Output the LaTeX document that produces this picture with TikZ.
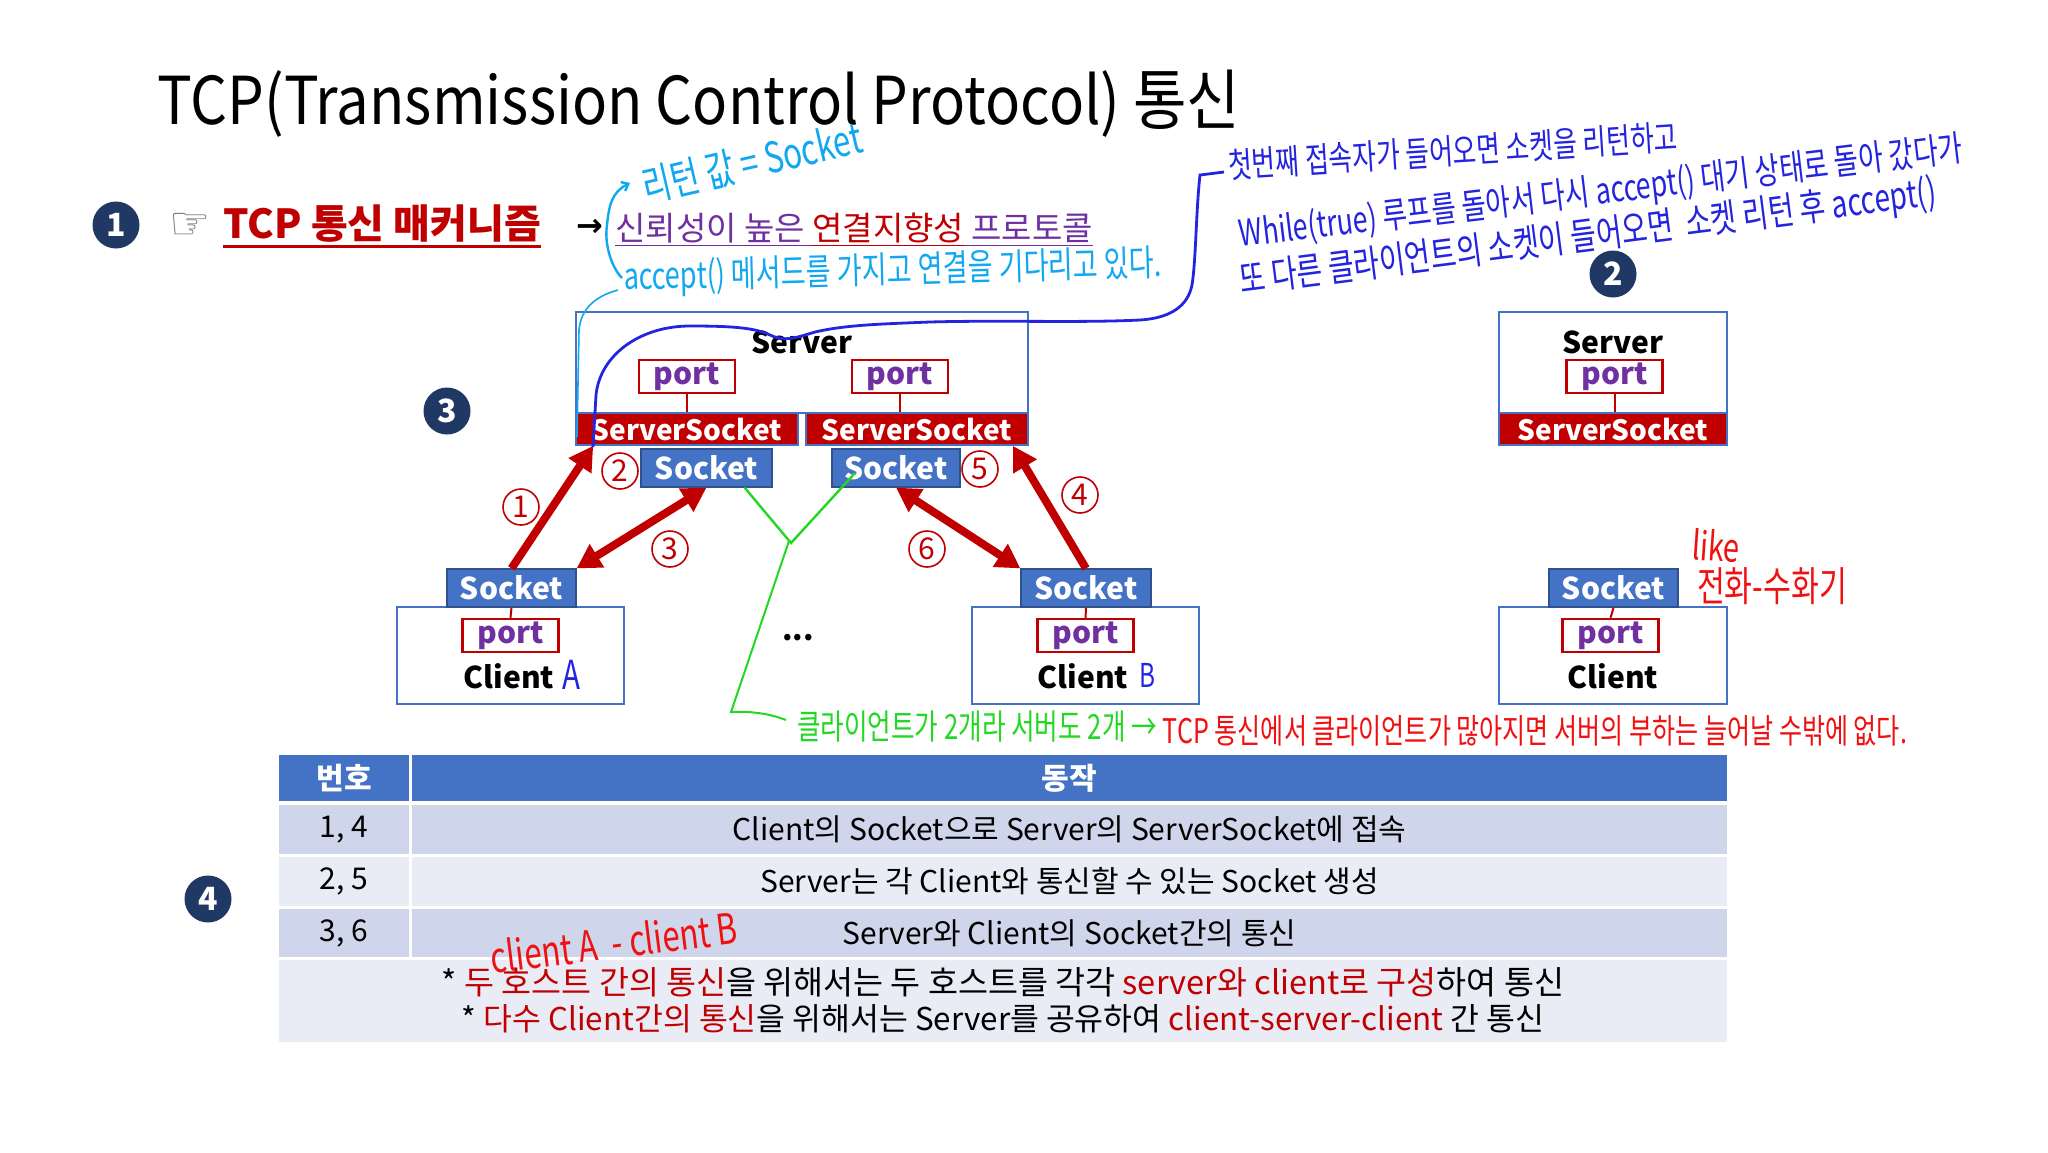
\documentclass[tikz,border=0pt]{standalone}
\usepackage{fontspec}
\usepackage{graphicx}
\setmainfont{Noto Sans CJK KR}
\newfontfamily\handfont{Noto Sans CJK KR}[FakeStretch=0.74]
\newfontfamily\titlefont{Noto Sans CJK KR}[FakeStretch=0.88]
\newfontfamily\dejavu{DejaVu Sans}
\usetikzlibrary{arrows.meta}
\definecolor{navy}{HTML}{203864}
\definecolor{dred}{HTML}{C00000}
\definecolor{purp}{HTML}{7030A0}
\definecolor{sblue}{HTML}{4472C4}
\definecolor{bborder}{HTML}{2F528F}
\definecolor{rowa}{HTML}{CFD5EA}
\definecolor{rowb}{HTML}{E9EBF5}
\definecolor{cyanhand}{HTML}{10A8F0}
\definecolor{bluehand}{HTML}{2424E0}
\definecolor{greenhand}{HTML}{22D822}
\definecolor{redhand}{HTML}{F01010}
\newcommand{\fsz}[1]{\fontsize{#1}{#1}\selectfont}
\newcommand{\fitw}[2]{\resizebox{#1}{!}{#2}}
\tikzset{
  srvbox/.style={draw=sblue, line width=1pt, fill=white, inner sep=0},
  ssbar/.style={fill=dred, draw=sblue, line width=0.8pt, text=white, font=\bfseries\fsz{14}, inner sep=0, minimum height=16pt},
  sockbox/.style={fill=sblue, draw=bborder, line width=0.6pt, text=white, font=\bfseries\fsz{15}, inner sep=0, minimum height=19pt},
  portbox/.style={draw=dred, line width=1.2pt, fill=white, text=purp, font=\bfseries\fsz{15}, inner sep=0, minimum width=48pt, minimum height=16.5pt, text height=9pt, text depth=1pt},
  numc/.style={circle, fill=navy, text=white, font=\bfseries\fsz{16}, minimum size=23.5pt, inner sep=0},
  stepc/.style={circle, draw=dred, line width=0.8pt, text=dred, font=\fsz{15}, minimum size=18pt, inner sep=0},
  redarrow/.style={draw=dred, line width=4pt, -{Triangle[length=12pt,width=13pt]}},
  redbiarrow/.style={draw=dred, line width=4pt, {Triangle[length=12pt,width=13pt]}-{Triangle[length=12pt,width=13pt]}},
  tlink/.style={draw=dred, line width=1pt},
  hd/.style={fill=sblue, text=white, font=\bfseries\fsz{15}, inner sep=0},
  cella/.style={fill=rowa, font=\fsz{15}, inner sep=0},
  cellb/.style={fill=rowb, font=\fsz{15}, inner sep=0},
  lbl/.style={font=\bfseries\fsz{15}, inner sep=0},
  hw/.style={inner sep=0},
}
\begin{document}
\begin{tikzpicture}[x=0.5pt,y=-0.5pt]
\useasboundingbox (0,0) rectangle (2048,1152);
\fill[white] (0,0) rectangle (2048,1152);

% title
\node[anchor=base west, font=\titlefont\fsz{33}, inner sep=0] (title) at (157,124) {TCP(Transmission Control Protocol) 통신};

% line 1
\node[numc] (n1) at (116,225) {1};
\node[font=\dejavu\fsz{23}, text=black!55, inner sep=0] (hand) at (190,226) {☞};
\node[anchor=base west, text=dred, font=\bfseries\fsz{20}, inner sep=0] (mech) at (223,238) {TCP 통신 매커니즘};
\draw[dred, line width=1.5pt] ([yshift=-4pt]mech.base west) -- ([yshift=-4pt]mech.base east);
\node[font=\dejavu\bfseries\fsz{16}, inner sep=0] (arr0) at (590,228) {→};
\node[anchor=base west, text=purp, font=\fsz{16.5}, inner sep=0] (prot) at (615,240) {\underline{신뢰성이 높은 }\textcolor{dred}{\underline{연결지향성}}\underline{ 프로토콜}};

% number circles
\node[numc] (n2) at (1613,274) {2};
\node[numc] (n3) at (447,411) {3};
\node[numc] (n4) at (208,899) {4};

% ===== left server =====
\node[srvbox, minimum width=226pt, minimum height=50.5pt] (srv) at (802,362.5) {};
\node[lbl] (srvt) at (802,342) {Server};
\node[portbox] (p1) at (687,376.5) {port};
\node[portbox] (p2) at (900,376.5) {port};
\node[ssbar, minimum width=111pt] (ss1) at (687,429) {ServerSocket};
\node[ssbar, minimum width=111pt] (ss2) at (917,429) {ServerSocket};
\draw[tlink] (p1.south) -- (p1.south |- ss1.north);
\draw[tlink] (p2.south) -- (p2.south |- ss2.north);
\node[sockbox, minimum width=65.5pt] (s1) at (706.5,468) {Socket};
\node[sockbox, minimum width=64pt] (s2) at (896,468) {Socket};

% ===== client A =====
\node[srvbox, minimum width=113.5pt, minimum height=48.5pt] (cA) at (510.5,655.5) {};
\node[sockbox, minimum width=64.5pt] (csA) at (511.5,588) {Socket};
\node[portbox] (pA) at (510.5,635.5) {port};
\draw[tlink] (csA.south) -- (pA.north);
\node[lbl] (cAt) at (509,676) {Client};
\node[hw, text=bluehand] (cAh) at (571,675) {\fitw{9pt}{\handfont A}};

% ===== client B =====
\node[srvbox, minimum width=113.5pt, minimum height=48.5pt] (cB) at (1085.5,655.5) {};
\node[sockbox, minimum width=65pt] (csB) at (1086,588) {Socket};
\node[portbox] (pB) at (1085.5,635.5) {port};
\draw[tlink] (csB.south) -- (pB.north);
\node[lbl] (cBt) at (1083,676) {Client};
\node[hw, text=bluehand] (cBh) at (1147,675) {\fitw{8pt}{\handfont B}};

\node[lbl] (dots) at (798,638) {...};

% ===== right server / client =====
\node[srvbox, minimum width=114pt, minimum height=50.5pt] (srvR) at (1613,362.5) {};
\node[lbl] (srvRt) at (1613,342) {Server};
\node[portbox] (pR) at (1614.5,376.5) {port};
\node[ssbar, minimum width=114pt] (ssR) at (1613,429) {ServerSocket};
\draw[tlink] (pR.south) -- (pR.south |- ssR.north);

\node[srvbox, minimum width=114pt, minimum height=48.5pt] (cR) at (1613,655.5) {};
\node[sockbox, minimum width=64.5pt] (csR) at (1613.5,588) {Socket};
\node[portbox] (pRc) at (1610.5,635.5) {port};
\draw[tlink] (csR.south) -- (pRc.north);
\node[lbl] (cRt) at (1613,676) {Client};

% ===== arrows =====
\draw[redarrow] (csA.north) -- ([xshift=9pt]ss1.south west);
\draw[redbiarrow] (csA.north east) -- (s1.south);
\draw[redarrow] (csB.north) -- ([xshift=-8pt]ss2.south east);
\draw[redbiarrow] (csB.north west) -- (s2.south);

\node[stepc] (st1) at (521,507) {1};
\node[stepc] (st2) at (620,471) {2};
\node[stepc] (st3) at (670,549) {3};
\node[stepc] (st4) at (1080,495) {4};
\node[stepc] (st5) at (980,469) {5};
\node[stepc] (st6) at (927,549) {6};

% ===== table =====
\node[hd, minimum width=65pt, minimum height=23pt] (h1) at (344,778) {번호};
\node[hd, minimum width=657.5pt, minimum height=23pt] (h2) at (1069.5,778) {동작};
\node[cella, minimum width=65pt, minimum height=24.5pt] (r1a) at (344,829.5) {1, 4};
\node[cella, minimum width=657.5pt, minimum height=24.5pt] (r1b) at (1069.5,829.5) {Client의 Socket으로 Server의 ServerSocket에 접속};
\node[cellb, minimum width=65pt, minimum height=24.5pt] (r2a) at (344,881.5) {2, 5};
\node[cellb, minimum width=657.5pt, minimum height=24.5pt] (r2b) at (1069.5,881.5) {Server는 각 Client와 통신할 수 있는 Socket 생성};
\node[cella, minimum width=65pt, minimum height=24pt] (r3a) at (344,933) {3, 6};
\node[cella, minimum width=657.5pt, minimum height=24pt] (r3b) at (1069.5,933) {Server와 Client의 Socket간의 통신};
\node[cellb, minimum width=724pt, minimum height=41pt] (r4) at (1003,1001) {};
\node[inner sep=0] (r4l1) at (1003,982) {\fitw{561pt}{\fsz{15}* \textcolor{dred}{두 호스트 간의 통신}을 위해서는 두 호스트를 각각 \textcolor{dred}{server와 client로 구성}하여 통신}};
\node[inner sep=0] (r4l2) at (1003,1019) {\fitw{541pt}{\fsz{15}* \textcolor{dred}{다수 Client간의 통신}을 위해서는 Server를 공유하여 \textcolor{dred}{client-server-client} 간 통신}};

% ===== hand annotations =====
% cyan
\node[hw, text=cyanhand, rotate=13] (ret) at (752,162) {\fitw{112pt}{\handfont 리턴 값 = Socket}};
\node[hw, text=cyanhand, rotate=1.5] (acc) at (893,272) {\fitw{269pt}{\handfont accept() 메서드를 가지고 연결을 기다리고 있다.}};
\draw[cyanhand, line width=1.2pt, -{Straight Barb[length=3pt,width=5pt]}] (622,278) .. controls (612,268) and (604,245) .. (607,225) .. controls (609,205) and (612,192) .. (630,183);
\draw[cyanhand, line width=0.8pt] (618,290) .. controls (596,296) and (581,308) .. (579,330) -- (577,437);

% blue
\node[hw, text=bluehand, rotate=3.6] (bl1) at (1453,151) {\fitw{225pt}{\handfont 첫번째 접속자가 들어오면 소켓을 리턴하고}};
\node[hw, text=bluehand, rotate=6.8] (bl2) at (1601,193) {\fitw{364pt}{\handfont While(true) 루프를 돌아서 다시 accept() 대기 상태로 돌아 갔다가}};
\node[hw, text=bluehand, rotate=7.3] (bl3) at (1588,238) {\fitw{351pt}{\handfont 또 다른 클라이언트의 소켓이 들어오면 \ 소켓 리턴 후 accept()}};
\draw[bluehand, line width=1.4pt] (1224,172) -- (1200,175) .. controls (1196,210) and (1196,260) .. (1192,285) .. controls (1188,305) and (1172,318) .. (1140,320) .. controls (1080,323) and (1000,320) .. (930,322) .. controls (880,324) and (845,325) .. (815,332) .. controls (795,338) and (785,342) .. (770,335) .. controls (755,328) and (735,326) .. (690,326) .. controls (640,326) and (600,355) .. (596,395) -- (593,447);

% green / red bottom
\draw[greenhand, line width=1.2pt] ([xshift=-14pt]s1.south east) -- (791,543) -- (855,473);
\draw[greenhand, line width=1pt] (789,541) -- (731,712) .. controls (748,711) and (768,713) .. (786,720);
\node[hw, text=greenhand] (grn) at (977,727) {\fitw{180pt}{\handfont 클라이언트가 2개라 서버도 2개 →}};
\node[hw, text=redhand] (rdn) at (1535,731) {\fitw{372pt}{\handfont TCP 통신에서 클라이언트가 많아지면 서버의 부하는 늘어날 수밖에 없다.}};
\node[hw, text=redhand, rotate=-4] (like) at (1716,546) {\fitw{24pt}{\handfont like}};
\node[hw, text=redhand] (phone) at (1772,586) {\fitw{75pt}{\handfont 전화-수화기}};
\node[hw, text=redhand, rotate=7] (cab) at (614,942) {\fitw{124pt}{\handfont client A \ - client B}};
\end{tikzpicture}
\end{document}
